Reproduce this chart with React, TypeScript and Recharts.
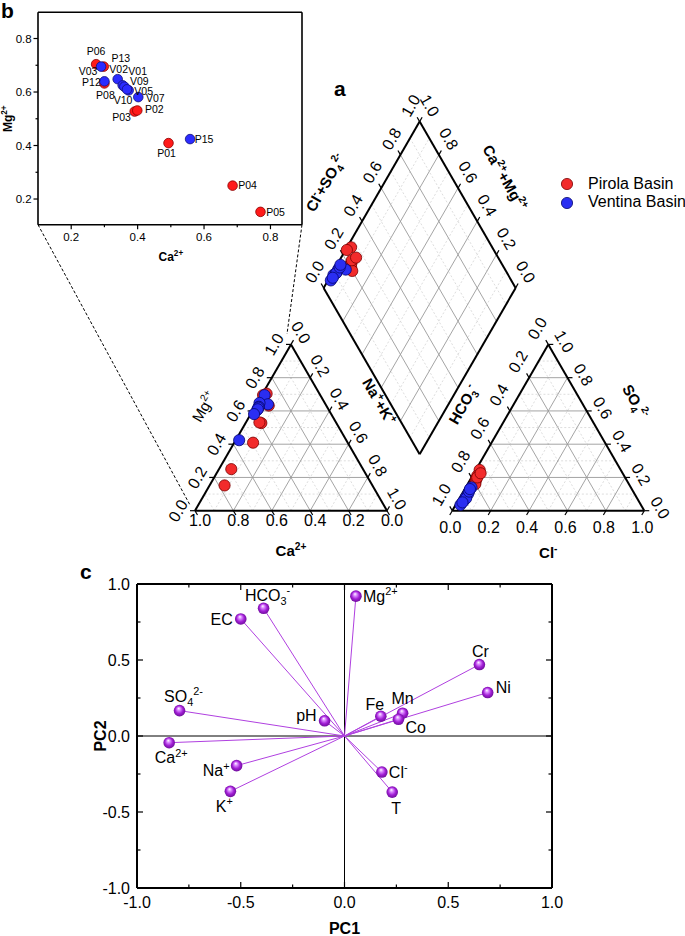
import React from 'react';
import { ScatterChart, Scatter, XAxis, YAxis, ReferenceLine, ReferenceDot, Legend } from 'recharts';

const FONT = '"Liberation Sans", Arial, Helvetica, sans-serif';
const RED = '#f22b2b';
const RED_EDGE = '#7a0000';
const BLUE = '#2a2ef2';
const BLUE_EDGE = '#06066e';
const PURPLE = '#b040e0';

// ---- samples: Ca2+ / Mg2+ fractions (panel b) and Cl- / SO4 2- fractions (anion triangle)
const pirolaIds = ['P06', 'P13', 'P12', 'P03', 'P02', 'P01', 'P04', 'P05'];
const pirolaCa = [0.275, 0.298, 0.3, 0.391, 0.399, 0.493, 0.686, 0.77];
const pirolaMg = [0.704, 0.695, 0.632, 0.527, 0.531, 0.409, 0.25, 0.152];
const pirolaCl = [0.02, 0.025, 0.03, 0.035, 0.03, 0.04, 0.03, 0.035];
const pirolaSO4 = [0.245, 0.21, 0.185, 0.17, 0.19, 0.16, 0.2, 0.225];

const ventinaIds = ['V03', 'P08', 'V02', 'V01', 'V09', 'V05', 'V10', 'V07', 'P15'];
const ventinaCa = [0.29, 0.3, 0.34, 0.355, 0.36, 0.373, 0.368, 0.402, 0.558];
const ventinaMg = [0.695, 0.64, 0.648, 0.625, 0.62, 0.606, 0.61, 0.581, 0.424];
const ventinaCl = [0.025, 0.03, 0.03, 0.03, 0.032, 0.035, 0.03, 0.028, 0.027];
const ventinaSO4 = [0.035, 0.14, 0.06, 0.08, 0.1, 0.075, 0.115, 0.05, 0.13];

// where each sample name sits around its dot in panel b (px)
const insetLabelOffset: Record<string, [number, number]> = {
  P06: [0, -13], P13: [17, -8], V03: [-13, 5], V02: [1, -10], V01: [15, -14], P12: [-13, -1],
  V09: [15, -5], V05: [15, 1], P08: [1, 14], V10: [-4, 11], V07: [17, 1], P03: [-13, 6],
  P02: [17, -1], P01: [-2, 10], P15: [14, 0], P04: [15, 0], P05: [15, 0],
};

// ---- PCA loadings (panel c)
const pcaVars = ['Mg{^2+}', 'Cr', 'Ni', 'Fe', 'Mn', 'Co', 'EC', 'HCO{_3}{^-}', 'SO{_4}{^2-}', 'pH', 'Ca{^2+}', 'Na{^+}', 'K{^+}', 'Cl{^-}', 'T'];
const pc1 = [0.055, 0.65, 0.69, 0.175, 0.28, 0.26, -0.5, -0.39, -0.795, -0.096, -0.845, -0.52, -0.55, 0.18, 0.23];
const pc2 = [0.92, 0.47, 0.286, 0.13, 0.15, 0.11, 0.77, 0.84, 0.167, 0.1, -0.044, -0.195, -0.364, -0.237, -0.369];
const pcaLabelPlace: [number, number, string][] = [
  [7, 0, 'start'], [1, -13, 'middle'], [8, -5, 'start'], [-6, -12, 'middle'], [0, -15, 'middle'],
  [7, 8, 'start'], [-8, 0, 'end'], [4, -13, 'middle'], [4, -14, 'middle'], [-8, -5, 'end'],
  [2, 15, 'middle'], [-7, 5, 'end'], [-6, 15, 'middle'], [7, 0, 'start'], [4, 16, 'middle'],
];

const pcaTicks = [-1, -0.75, -0.5, -0.25, 0, 0.25, 0.5, 0.75, 1];
const insetTicks = [0.2, 0.3, 0.4, 0.5, 0.6, 0.7, 0.8];
const ternTicks = [0, 0.2, 0.4, 0.6, 0.8, 1];
const gridSteps = [0.1, 0.2, 0.3, 0.4, 0.5, 0.6, 0.7, 0.8, 0.9];

// text with {^sup} and {_sub}
function rich(s: string, fs: number) {
  const parts: { t: string; k: number }[] = [];
  const re = /\{([_^])([^}]*)\}/g;
  let last = 0;
  let m: RegExpExecArray | null;
  while ((m = re.exec(s)) !== null) {
    if (m.index > last) parts.push({ t: s.slice(last, m.index), k: 0 });
    parts.push({ t: m[2], k: m[1] === '^' ? 1 : -1 });
    last = re.lastIndex;
  }
  if (last < s.length) parts.push({ t: s.slice(last), k: 0 });
  let cur = 0;
  return parts.map((p, i) => {
    const target = p.k === 1 ? -0.42 * fs : p.k === -1 ? 0.25 * fs : 0;
    const dy = target - cur;
    cur = target;
    return (
      <tspan key={i} dy={dy} fontSize={p.k === 0 ? fs : fs * 0.68}>
        {p.t}
      </tspan>
    );
  });
}

function txt(cx: number, cy: number, s: string, fs: number, angle = 0, anchor = 'middle', bold = false) {
  return (
    <text
      x={cx}
      y={cy + 0.35 * fs}
      textAnchor={anchor as any}
      fontSize={fs}
      fontWeight={bold ? 'bold' : 'normal'}
      fill="#000"
      transform={angle ? `rotate(${angle} ${cx} ${cy})` : undefined}
    >
      {rich(s, fs)}
    </text>
  );
}

type Side = 'bottom' | 'top' | 'left' | 'right';
function axisTick(side: Side, o: { inward: boolean; isMajor: (v: number) => boolean; major: number; minor: number; label: boolean; gap: number; fs: number }) {
  return (p: any) => {
    const v = Number(p.payload ? p.payload.value : p.value);
    const big = o.isMajor(v);
    const len = (big ? o.major : o.minor) * (o.inward ? -1 : 1);
    const horiz = side === 'bottom' || side === 'top';
    const sgn = side === 'bottom' || side === 'right' ? 1 : -1;
    const x = p.cx ?? p.x;
    const y = p.cy ?? p.y;
    const x2 = horiz ? x : x + sgn * len;
    const y2 = horiz ? y + sgn * len : y;
    let lbl = null;
    if (o.label && big) {
      lbl = horiz
        ? txt(x, y + sgn * o.gap, v.toFixed(1), o.fs)
        : txt(x + sgn * o.gap, y, v.toFixed(1), o.fs, 0, sgn < 0 ? 'end' : 'start');
    }
    return (
      <g>
        <line x1={x} y1={y} x2={x2} y2={y2} stroke="#000" strokeWidth={1.2} />
        {lbl}
      </g>
    );
  };
}

// ---- Piper geometry (side of a triangle = 1 unit)
type Pt = { x: number; y: number };
const H = Math.sqrt(3) / 2;
const GAP = 0.34;
const ANION_X0 = 1 + GAP;
const DIA_BX = 1 + GAP / 2;
const DIA_BY = GAP * H;
const cationXY = (ca: number, mg: number): Pt => ({ x: 1 - ca - mg + mg / 2, y: mg * H });
const anionXY = (cl: number, so4: number): Pt => ({ x: ANION_X0 + cl + so4 / 2, y: so4 * H });
const diamondXY = (p: number, q: number): Pt => ({ x: DIA_BX - 0.5 + 0.5 * p + 0.5 * q, y: DIA_BY + H + H * (p - q) });

const SIDE = 192;
const PIPER_X0 = 195;
const PIPER_Y0 = 510.7;
const PIPER_W = 685;
const PIPER_H = 570;
const piperXDomain: [number, number] = [-PIPER_X0 / SIDE, (PIPER_W - PIPER_X0) / SIDE];
const piperYDomain: [number, number] = [(PIPER_Y0 - PIPER_H) / SIDE, PIPER_Y0 / SIDE];
const pageToPiper = (px: number, py: number): Pt => ({ x: (px - PIPER_X0) / SIDE, y: (PIPER_Y0 - py) / SIDE });

const piperGrid: { a: Pt; b: Pt; major: boolean }[] = [];
gridSteps.forEach((k) => {
  const major = Math.round(k * 10) % 2 === 0;
  piperGrid.push(
    { a: cationXY(1 - k, k), b: cationXY(0, k), major },
    { a: cationXY(k, 0), b: cationXY(k, 1 - k), major },
    { a: cationXY(1 - k, 0), b: cationXY(0, 1 - k), major },
    { a: anionXY(0, k), b: anionXY(1 - k, k), major },
    { a: anionXY(k, 0), b: anionXY(k, 1 - k), major },
    { a: anionXY(0, 1 - k), b: anionXY(1 - k, 0), major },
    { a: diamondXY(k, 0), b: diamondXY(k, 1), major },
    { a: diamondXY(0, k), b: diamondXY(1, k), major },
  );
});

const piperEdges: [Pt, Pt][] = [
  [cationXY(1, 0), cationXY(0, 0)],
  [cationXY(1, 0), cationXY(0, 1)],
  [cationXY(0, 1), cationXY(0, 0)],
  [anionXY(0, 0), anionXY(1, 0)],
  [anionXY(0, 0), anionXY(0, 1)],
  [anionXY(0, 1), anionXY(1, 0)],
  [diamondXY(0, 0), diamondXY(1, 0)],
  [diamondXY(1, 0), diamondXY(1, 1)],
  [diamondXY(1, 1), diamondXY(0, 1)],
  [diamondXY(0, 1), diamondXY(0, 0)],
];

const piperAxes: { at: (v: number) => Pt; dir: [number, number]; off: [number, number]; angle: number }[] = [
  { at: (v) => cationXY(v, 0), dir: [0.5, -H], off: [5, 10], angle: 0 },
  { at: (v) => cationXY(1 - v, v), dir: [-1, 0], off: [-17, 0], angle: -60 },
  { at: (v) => cationXY(0, 1 - v), dir: [0.5, H], off: [10, -12], angle: 60 },
  { at: (v) => anionXY(v, 0), dir: [-0.5, -H], off: [-2, 17], angle: 0 },
  { at: (v) => anionXY(0, 1 - v), dir: [-0.5, H], off: [-11, -16], angle: -60 },
  { at: (v) => anionXY(1 - v, v), dir: [1, 0], off: [16, -3], angle: 60 },
  { at: (v) => diamondXY(v, 0), dir: [-0.5, H], off: [-9, -16], angle: -60 },
  { at: (v) => diamondXY(1, 1 - v), dir: [0.5, H], off: [10, -16], angle: 60 },
];

const piperTitles: { text: string; at: Pt; off: [number, number]; angle: number; bold: boolean }[] = [
  { text: 'Mg{^2+}', at: cationXY(0.5, 0.5), off: [-39, -21], angle: -60, bold: false },
  { text: 'Ca{^2+}', at: cationXY(0.5, 0), off: [0, 40], angle: 0, bold: true },
  { text: 'Na{^+}+K{^+}', at: cationXY(0, 0.5), off: [40, -26], angle: 60, bold: true },
  { text: 'HCO{_3}{^-}', at: anionXY(0, 0.5), off: [-37, -23], angle: -60, bold: true },
  { text: 'SO{_4}{^2-}', at: anionXY(0.5, 0.5), off: [39, -26], angle: 60, bold: true },
  { text: 'Cl{^-}', at: anionXY(0.5, 0), off: [0, 42], angle: 0, bold: true },
  { text: 'Cl{^-}+SO{_4}{^2-}', at: diamondXY(0.5, 0), off: [-46, -22], angle: -60, bold: true },
  { text: 'Ca{^2+}+Mg{^2+}', at: diamondXY(1, 0.5), off: [37, -27], angle: 60, bold: true },
];

const piperPoints = (ca: number[], mg: number[], cl: number[], so4: number[]) =>
  ca.flatMap((c, i) => [cationXY(c, mg[i]), anionXY(cl[i], so4[i]), diamondXY(cl[i] + so4[i], 1 - c - mg[i])]);
const pirolaPiper = piperPoints(pirolaCa, pirolaMg, pirolaCl, pirolaSO4);
const ventinaPiper = piperPoints(ventinaCa, ventinaMg, ventinaCl, ventinaSO4);

// ---- inset layout
const INSET = { w: 320, h: 270, left: 38, right: 302, top: 12.3, bottom: 224.7 };
const insetXDomain: [number, number] = [0.1, 0.895];
const insetYDomain: [number, number] = [0.104, 0.898];
const insetRows = (ids: string[], ca: number[], mg: number[]) => ids.map((id, i) => ({ id, x: ca[i], y: mg[i] }));
const insetRed = insetRows(pirolaIds, pirolaCa, pirolaMg);
const insetBlue = insetRows(ventinaIds, ventinaCa, ventinaMg);

const connectors: [Pt, Pt][] = [
  [pageToPiper(INSET.left, INSET.bottom), pageToPiper(190, 505)],
  [pageToPiper(INSET.right, INSET.bottom), pageToPiper(287, 334)],
];

const pcaData = pcaVars.map((name, i) => ({ name, x: pc1[i], y: pc2[i], place: pcaLabelPlace[i] }));

const edgeOf: Record<string, string> = { [RED]: RED_EDGE, [BLUE]: BLUE_EDGE };

const dot = (fill: string, edge: string, r: number) => (p: any) => (
  <circle cx={p.cx} cy={p.cy} r={r} fill={fill} stroke={edge} strokeWidth={0.8} />
);

const renderLegend = (props: any) => (
  <div style={{ fontSize: 16, lineHeight: '18.7px', fontFamily: FONT }}>
    {(props.payload || []).map((e: any) => (
      <div key={e.value} style={{ display: 'flex', alignItems: 'center', height: 18.7 }}>
        <svg width={14} height={14} style={{ marginRight: 14 }}>
          <circle cx={7} cy={7} r={5.6} fill={e.color} stroke={edgeOf[e.color] || '#000'} strokeWidth={0.8} />
        </svg>
        <span>{e.value}</span>
      </div>
    ))}
  </div>
);

const letter = (ch: string, left: number, top: number) => (
  <div style={{ position: 'absolute', left, top, fontSize: 21, fontWeight: 'bold', lineHeight: '21px' }}>{ch}</div>
);

function PiperPanel() {
  const tl = 5 / SIDE;
  return (
    <ScatterChart width={PIPER_W} height={PIPER_H} margin={{ top: 0, right: 0, bottom: 0, left: 0 }}>
      <XAxis type="number" dataKey="x" domain={piperXDomain} hide allowDataOverflow />
      <YAxis type="number" dataKey="y" domain={piperYDomain} hide allowDataOverflow />
      {piperGrid.map((g, i) => (
        <ReferenceLine
          key={`g${i}`}
          segment={[g.a, g.b]}
          stroke={g.major ? '#9a9a9a' : '#cfcfcf'}
          strokeWidth={g.major ? 0.9 : 0.7}
          strokeDasharray={g.major ? undefined : '2 2'}
          ifOverflow="visible"
        />
      ))}
      {piperAxes.flatMap((ax, j) =>
        ternTicks.map((v, i) => {
          const a = ax.at(v);
          return (
            <ReferenceLine
              key={`t${j}-${i}`}
              segment={[a, { x: a.x + ax.dir[0] * tl, y: a.y + ax.dir[1] * tl }]}
              stroke="#000"
              strokeWidth={1.2}
              ifOverflow="visible"
            />
          );
        }),
      )}
      {piperEdges.map((e, i) => (
        <ReferenceLine key={`e${i}`} segment={e} stroke="#000" strokeWidth={2} ifOverflow="visible" />
      ))}
      {connectors.map((c, i) => (
        <ReferenceLine key={`c${i}`} segment={c} stroke="#000" strokeWidth={1} strokeDasharray="3 2" ifOverflow="visible" />
      ))}
      {piperAxes.flatMap((ax, j) =>
        ternTicks.map((v, i) => {
          const a = ax.at(v);
          return (
            <ReferenceDot
              key={`l${j}-${i}`}
              x={a.x}
              y={a.y}
              r={0}
              ifOverflow="visible"
              shape={(p: any) => txt(p.cx + ax.off[0], p.cy + ax.off[1], v.toFixed(1), 16, ax.angle)}
            />
          );
        }),
      )}
      {piperTitles.map((t, i) => (
        <ReferenceDot
          key={`ti${i}`}
          x={t.at.x}
          y={t.at.y}
          r={0}
          ifOverflow="visible"
          shape={(p: any) => txt(p.cx + t.off[0], p.cy + t.off[1], t.text, 15, t.angle, 'middle', t.bold)}
        />
      ))}
      <Scatter name="Pirola Basin" data={pirolaPiper} fill={RED} shape={dot(RED, RED_EDGE, 5.6)} isAnimationActive={false} />
      <Scatter name="Ventina Basin" data={ventinaPiper} fill={BLUE} shape={dot(BLUE, BLUE_EDGE, 5.6)} isAnimationActive={false} />
      <Legend layout="vertical" align="center" verticalAlign="middle" wrapperStyle={{ left: 560, top: 174.7, width: 130 }} content={renderLegend} />
    </ScatterChart>
  );
}

function InsetPanel() {
  const major = (v: number) => Math.abs(v * 5 - Math.round(v * 5)) < 1e-6;
  const insetLabel = (p: any) => {
    const off = insetLabelOffset[p.payload.id] || [14, 0];
    return txt(p.cx + off[0], p.cy + off[1], p.payload.id, 10.5);
  };
  const frame = { stroke: '#000', strokeWidth: 1.6 };
  return (
    <ScatterChart
      width={INSET.w}
      height={INSET.h}
      margin={{ top: INSET.top, right: INSET.w - INSET.right, bottom: INSET.h - INSET.bottom - 30, left: INSET.left - 30 }}
    >
      <XAxis
        type="number"
        dataKey="x"
        domain={insetXDomain}
        ticks={insetTicks}
        interval={0}
        tickSize={0}
        tickMargin={0}
        tickLine={false}
        axisLine={frame}
        height={30}
        allowDataOverflow
        tick={axisTick('bottom', { inward: false, isMajor: major, major: 4.5, minor: 2.5, label: true, gap: 12.3, fs: 11.5 })}
      />
      <YAxis
        type="number"
        dataKey="y"
        domain={insetYDomain}
        ticks={insetTicks}
        interval={0}
        tickSize={0}
        tickMargin={0}
        tickLine={false}
        axisLine={frame}
        width={30}
        allowDataOverflow
        tick={axisTick('left', { inward: false, isMajor: major, major: 4.5, minor: 2.5, label: true, gap: 6.3, fs: 11.5 })}
      />
      <ReferenceLine y={insetYDomain[1]} {...frame} ifOverflow="visible" />
      <ReferenceLine x={insetXDomain[1]} {...frame} ifOverflow="visible" />
      <Scatter data={insetRed} shape={dot('#ff1a1a', '#8a0000', 4.8)} isAnimationActive={false} />
      <Scatter data={insetBlue} shape={dot('#2b2bff', '#10107a', 4.8)} isAnimationActive={false} />
      <Scatter data={[...insetRed, ...insetBlue]} shape={insetLabel} isAnimationActive={false} />
      <ReferenceDot x={0.5} y={insetYDomain[0]} r={0} ifOverflow="visible" shape={(p: any) => txt(p.cx, p.cy + 32, 'Ca{^2+}', 12, 0, 'middle', true)} />
      <ReferenceDot x={insetXDomain[0]} y={0.5} r={0} ifOverflow="visible" shape={(p: any) => txt(p.cx - 30, p.cy, 'Mg{^2+}', 12, -90, 'middle', true)} />
    </ScatterChart>
  );
}

function PcaPanel() {
  const major = (v: number) => Math.abs(v * 2 - Math.round(v * 2)) < 1e-6;
  const sphere = (p: any) => {
    const [dx, dy, anchor] = p.payload.place;
    return (
      <g>
        <circle cx={p.cx} cy={p.cy} r={5.8} fill="url(#pcaSphere)" />
        {txt(p.cx + dx, p.cy + dy, p.payload.name, 16, 0, anchor)}
      </g>
    );
  };
  const frame = { stroke: '#000', strokeWidth: 2 };
  const common = { type: 'number' as const, domain: [-1, 1], ticks: pcaTicks, interval: 0, tickSize: 0, tickMargin: 0, tickLine: false, allowDataOverflow: true, axisLine: frame };
  const topTick = axisTick('top', { inward: true, isMajor: major, major: 6, minor: 3.5, label: false, gap: 0, fs: 16 });
  const rightTick = axisTick('right', { inward: true, isMajor: major, major: 6, minor: 3.5, label: false, gap: 0, fs: 16 });
  return (
    <ScatterChart width={685} height={376} margin={{ top: 24, right: 133, bottom: 8, left: 87 }}>
      <defs>
        <radialGradient id="pcaSphere" cx="50%" cy="50%" r="55%" fx="42%" fy="30%">
          <stop offset="0%" stopColor="#ffffff" />
          <stop offset="25%" stopColor="#dc8cff" />
          <stop offset="60%" stopColor="#a21fd6" />
          <stop offset="100%" stopColor="#650a90" />
        </radialGradient>
      </defs>
      <XAxis {...common} dataKey="x" height={40} tick={axisTick('bottom', { inward: true, isMajor: major, major: 6, minor: 3.5, label: true, gap: 14, fs: 16 })} />
      <YAxis {...common} dataKey="y" width={50} tick={axisTick('left', { inward: true, isMajor: major, major: 6, minor: 3.5, label: true, gap: 7, fs: 16 })} />
      <ReferenceLine y={1} {...frame} ifOverflow="visible" />
      <ReferenceLine x={1} {...frame} ifOverflow="visible" />
      {pcaTicks.map((v) => (
        <ReferenceDot key={`tt${v}`} x={v} y={1} r={0} ifOverflow="visible" shape={(p: any) => topTick({ cx: p.cx, cy: p.cy, value: v })} />
      ))}
      {pcaTicks.map((v) => (
        <ReferenceDot key={`rt${v}`} x={1} y={v} r={0} ifOverflow="visible" shape={(p: any) => rightTick({ cx: p.cx, cy: p.cy, value: v })} />
      ))}
      <ReferenceLine x={0} stroke="#000" strokeWidth={1} />
      <ReferenceLine y={0} stroke="#000" strokeWidth={1} />
      {pcaData.map((d, i) => (
        <ReferenceLine key={i} segment={[{ x: 0, y: 0 }, { x: d.x, y: d.y }]} stroke={PURPLE} strokeWidth={1} ifOverflow="visible" />
      ))}
      <Scatter data={pcaData} shape={sphere} isAnimationActive={false} />
      <ReferenceDot x={0} y={-1} r={0} ifOverflow="visible" shape={(p: any) => txt(p.cx, p.cy + 40, 'PC1', 16, 0, 'middle', true)} />
      <ReferenceDot x={-1} y={0} r={0} ifOverflow="visible" shape={(p: any) => txt(p.cx - 37, p.cy, 'PC2', 16, -90, 'middle', true)} />
    </ScatterChart>
  );
}

export default function App() {
  return (
    <div style={{ position: 'absolute', left: 0, top: 0, width: 685, height: 936, fontFamily: FONT, background: '#fff', color: '#000' }}>
      <div style={{ position: 'absolute', left: 0, top: 0 }}>
        <PiperPanel />
      </div>
      <div style={{ position: 'absolute', left: 0, top: 0 }}>
        <InsetPanel />
      </div>
      <div style={{ position: 'absolute', left: 0, top: 560 }}>
        <PcaPanel />
      </div>
      {letter('b', 1, 0)}
      {letter('a', 334, 78)}
      {letter('c', 80, 561)}
    </div>
  );
}
